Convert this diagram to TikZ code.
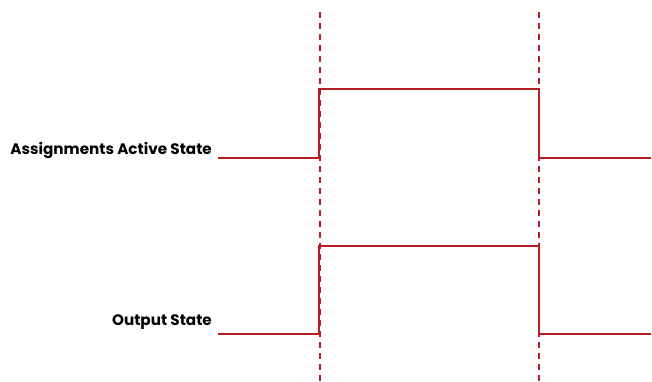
\documentclass[tikz,border=0pt]{standalone}
\usepackage{fontspec}
\setmainfont{Poppins}
\usepackage{tikz}
\usetikzlibrary{positioning}
\definecolor{sigred}{HTML}{B51F24}

\begin{document}
\begin{tikzpicture}[x=1pt, y=-1pt,
  signal/.style={draw=sigred, line width=1.6pt},
  marker/.style={draw=sigred, line width=1.4pt, dash pattern=on 6pt off 5pt},
  siglabel/.style={anchor=east, font=\bfseries\fontsize{15.2}{17}\selectfont, inner sep=0pt},
]
  \useasboundingbox (0,0) rectangle (652,381);
  % edges
  \coordinate (rise top) at (320,12);
  \coordinate (rise bot) at (320,381);
  \coordinate (fall top) at (539,12);
  \coordinate (fall bot) at (539,381);
  \draw[marker] (rise top) -- (rise bot);
  \draw[marker] (fall top) -- (fall bot);
  % assignments active state
  \node[siglabel] (active) at (212,150) {Assignments Active State};
  \coordinate (a0) at (218,158);
  \coordinate (a1) at (319,158);
  \coordinate (a2) at (319,89);
  \coordinate (a3) at (539,89);
  \coordinate (a4) at (539,158);
  \coordinate (a5) at (651,158);
  \draw[signal] (a0) -- (a1) -- (a2) -- (a3) -- (a4) -- (a5);
  % output state
  \node[siglabel] (output) at (212,322) {Output State};
  \coordinate (o0) at (218,334);
  \coordinate (o1) at (319,334);
  \coordinate (o2) at (319,246);
  \coordinate (o3) at (539,246);
  \coordinate (o4) at (539,334);
  \coordinate (o5) at (651,334);
  \draw[signal] (o0) -- (o1) -- (o2) -- (o3) -- (o4) -- (o5);
\end{tikzpicture}
\end{document}
